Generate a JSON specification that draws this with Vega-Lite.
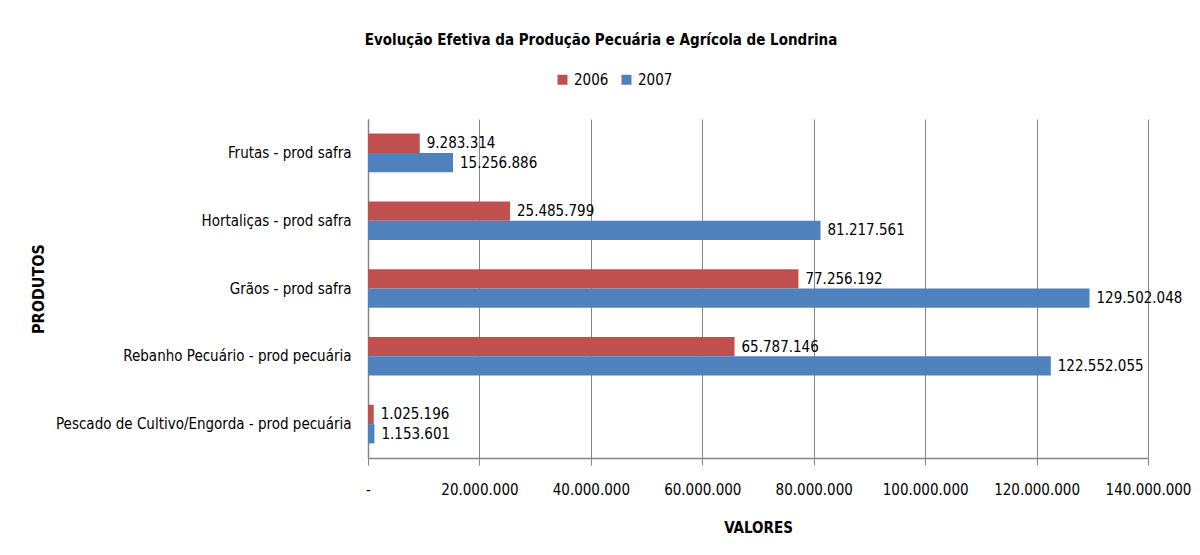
{
  "$schema": "https://vega.github.io/schema/vega-lite/v6.json",
  "width": 780,
  "height": 339,
  "autosize": {"type": "none"},
  "padding": {"left": 368, "top": 119, "right": 52, "bottom": 97},
  "background": "white",
  "config": {
    "locale": {"number": {"decimal": ",", "thousands": ".", "grouping": [3], "currency": ["R$ ", ""]}},
    "font": "Liberation Sans Narrow, DejaVu Sans Condensed, sans-serif",
    "view": {"stroke": null}
  },
  "title": {
    "text": "Evolução Efetiva da Produção Pecuária e Agrícola de Londrina",
    "anchor": "middle",
    "frame": "group",
    "dx": -157,
    "offset": 24,
    "fontSize": 15,
    "fontWeight": "bold",
    "color": "#000000"
  },
  "data": {
    "values": [
      {"produto": "Frutas - prod safra", "ano": "2006", "valor": 9283314},
      {"produto": "Frutas - prod safra", "ano": "2007", "valor": 15256886},
      {"produto": "Hortaliças - prod safra", "ano": "2006", "valor": 25485799},
      {"produto": "Hortaliças - prod safra", "ano": "2007", "valor": 81217561},
      {"produto": "Grãos - prod safra", "ano": "2006", "valor": 77256192},
      {"produto": "Grãos - prod safra", "ano": "2007", "valor": 129502048},
      {"produto": "Rebanho Pecuário - prod pecuária", "ano": "2006", "valor": 65787146},
      {"produto": "Rebanho Pecuário - prod pecuária", "ano": "2007", "valor": 122552055},
      {"produto": "Pescado de Cultivo/Engorda - prod pecuária", "ano": "2006", "valor": 1025196},
      {"produto": "Pescado de Cultivo/Engorda - prod pecuária", "ano": "2007", "valor": 1153601}
    ]
  },
  "encoding": {
    "y": {
      "field": "produto",
      "type": "nominal",
      "sort": ["Frutas - prod safra", "Hortaliças - prod safra", "Grãos - prod safra", "Rebanho Pecuário - prod pecuária", "Pescado de Cultivo/Engorda - prod pecuária"],
      "scale": {"paddingInner": 0.43, "paddingOuter": 0.215},
      "axis": {
        "title": "PRODUTOS",
        "titleFontSize": 16,
        "titleFontWeight": "bold",
        "titleColor": "#000000",
        "titleX": -330,
        "titleY": 169.5,
        "titleAngle": -90,
        "titleBaseline": "middle",
        "titleAlign": "center",
        "labelFontSize": 15,
        "labelColor": "#000000",
        "labelPadding": 17,
        "labelLimit": 0,
        "ticks": false,
        "domainColor": "#868686",
        "domainWidth": 1.5
      }
    },
    "yOffset": {
      "field": "ano",
      "type": "nominal",
      "sort": ["2006", "2007"],
      "scale": {"paddingInner": 0, "paddingOuter": 0}
    },
    "x": {
      "field": "valor",
      "type": "quantitative",
      "scale": {"domain": [0, 140000000], "nice": false},
      "axis": {
        "title": "VALORES",
        "titleFontSize": 15,
        "titleFontWeight": "bold",
        "titleColor": "#000000",
        "titleY": 69,
        "titleBaseline": "middle",
        "values": [0, 20000000, 40000000, 60000000, 80000000, 100000000, 120000000, 140000000],
        "labelExpr": "datum.value == 0 ? '-' : format(datum.value, ',.0f')",
        "labelFontSize": 15,
        "labelColor": "#000000",
        "labelPadding": 17,
        "labelFlush": false,
        "labelOverlap": false,
        "tickSize": 7,
        "tickColor": "#868686",
        "domainColor": "#868686",
        "domainWidth": 1.5,
        "grid": true,
        "gridColor": "#868686",
        "gridWidth": 1
      }
    }
  },
  "layer": [
    {
      "mark": {"type": "bar"},
      "encoding": {
        "color": {
          "field": "ano",
          "type": "nominal",
          "scale": {"domain": ["2006", "2007"], "range": ["#C0504D", "#4F81BD"]},
          "legend": {
            "title": null,
            "orient": "none",
            "direction": "horizontal",
            "legendX": 187,
            "legendY": -47,
            "symbolType": "square",
            "symbolSize": 100,
            "symbolStrokeWidth": 0,
            "labelFontSize": 15,
            "labelColor": "#000000",
            "labelOffset": 4,
            "columnPadding": 10,
            "padding": 0
          }
        }
      }
    },
    {
      "mark": {"type": "text", "align": "left", "baseline": "middle", "dx": 7, "fontSize": 15, "color": "#000000"},
      "encoding": {
        "text": {"field": "valor", "type": "quantitative", "format": ",.0f"}
      }
    }
  ]
}
